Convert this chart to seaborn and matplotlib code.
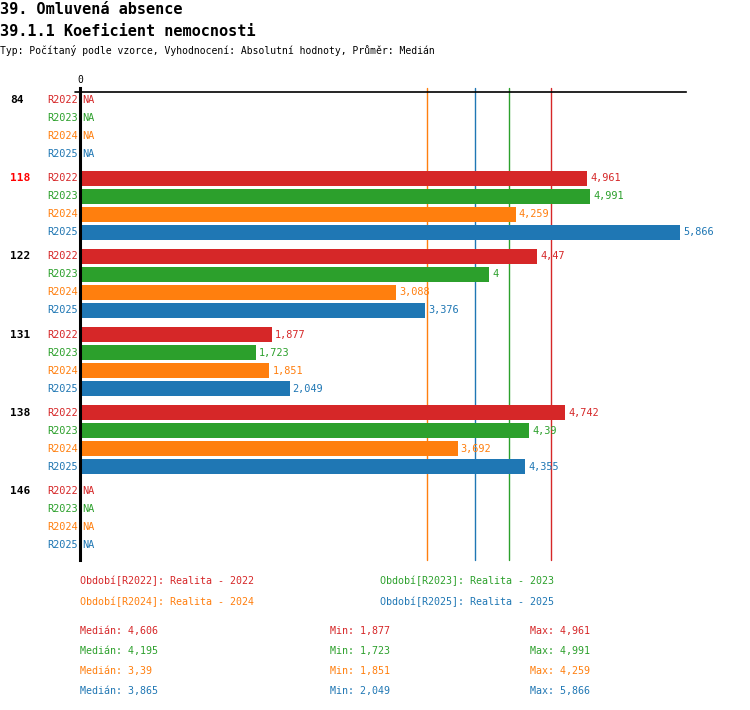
import numpy as np
import pandas as pd
import seaborn as sns
import matplotlib.pyplot as plt
from matplotlib.lines import Line2D

# data
groups = ["84", "118", "122", "131", "138", "146"]
periods = ["R2022", "R2023", "R2024", "R2025"]
v2022 = [np.nan, 4.961, 4.47, 1.877, 4.742, np.nan]
v2023 = [np.nan, 4.991, 4.0, 1.723, 4.39, np.nan]
v2024 = [np.nan, 4.259, 3.088, 1.851, 3.692, np.nan]
v2025 = [np.nan, 5.866, 3.376, 2.049, 4.355, np.nan]
medians = [4.606, 4.195, 3.39, 3.865]
mins = [1.877, 1.723, 1.851, 2.049]
maxs = [4.961, 4.991, 4.259, 5.866]
legend_names = ["Realita - 2022", "Realita - 2023", "Realita - 2024", "Realita - 2025"]
highlight = "118"

colors = ["#d62728", "#2ca02c", "#ff7f0e", "#1f77b4"]
palette = dict(zip(periods, colors))
GROUP_STEP = 4.35


def fmt(v):
    s = f"{v:.3f}".rstrip("0").rstrip(".")
    return s.replace(".", ",")


rows = []
for gi, g in enumerate(groups):
    for pi, (p, vals) in enumerate(zip(periods, [v2022, v2023, v2024, v2025])):
        rows.append({"group": g, "period": p, "value": vals[gi],
                     "pos": gi * GROUP_STEP + pi})
df = pd.DataFrame(rows)

sns.set_style("white")
plt.rcParams["font.family"] = ["DejaVu Sans Mono"]
plt.rcParams["text.color"] = "black"

W, H = 750, 710
fig = plt.figure(figsize=(W / 100, H / 100), dpi=100)
ax = fig.add_axes([80 / W, 1 - 560 / H, (686 - 80) / W, (560 - 92) / H])

# median lines behind bars
for m, c in zip(medians, colors):
    ax.axvline(m, ymin=0, ymax=1 + 4 / 468, color=c, lw=1, zorder=0, clip_on=False)

sns.barplot(data=df.dropna(), x="value", y="pos", hue="period", palette=palette,
            orient="h", native_scale=True, dodge=False, width=0.84,
            legend=False, ax=ax, zorder=2, saturation=1, linewidth=0)

ax.set_xlim(0, 5.925)
last = (len(groups) - 1) * GROUP_STEP + 3
ax.set_ylim(last + 0.833, -0.444)

for s in ["right", "bottom"]:
    ax.spines[s].set_visible(False)
ax.spines["top"].set_color("black")
ax.spines["top"].set_linewidth(1.2)
ax.spines["left"].set_color("black")
ax.spines["left"].set_linewidth(2.2)
ax.spines["left"].set_bounds(last + 0.833, -0.67)
ax.add_line(Line2D([-5 / 606, 0], [1, 1], transform=ax.transAxes,
                   color="black", lw=1.2, clip_on=False))

ax.xaxis.tick_top()
ax.set_xticks([0])
ax.set_xticklabels(["0"], fontsize=7, color="black")
ax.tick_params(axis="x", length=0, pad=5)
ax.set_yticks([])
ax.set_xlabel("")
ax.set_ylabel("")

# row labels, group labels and value labels
for _, r in df.iterrows():
    c = palette[r["period"]]
    ax.text(-0.02, r["pos"], r["period"], ha="right", va="center",
            color=c, fontsize=7.4)
    if np.isnan(r["value"]):
        ax.text(0.02, r["pos"], "NA", ha="left", va="center", color=c, fontsize=7.4)
    else:
        ax.text(r["value"] + 0.03, r["pos"], fmt(r["value"]), ha="left",
                va="center", color=c, fontsize=7.4)

for gi, g in enumerate(groups):
    ax.text(-70 / 102.3, gi * GROUP_STEP, g, ha="left", va="center",
            fontsize=8, fontweight="bold",
            color="#ff0000" if g == highlight else "black")

# titles
fig.text(0, 1 - 9 / H, "39. Omluvená absence", fontsize=11, fontweight="bold", va="center")
fig.text(0, 1 - 31 / H, "39.1.1 Koeficient nemocnosti", fontsize=11, fontweight="bold", va="center")
fig.text(0, 1 - 50 / H,
         "Typ: Počítaný podle vzorce, Vyhodnocení: Absolutní hodnoty, Průměr: Medián",
         fontsize=7, va="center")

# legend below
leg_pos = [(80, 581), (380, 581), (80, 602), (380, 602)]
for (x, y), p, name, c in zip(leg_pos, periods, legend_names, colors):
    fig.text(x / W, 1 - y / H, f"Období[{p}]: {name}", color=c, fontsize=7.2, va="center")

for i, c in enumerate(colors):
    y = 1 - (631 + 20 * i) / H
    fig.text(80 / W, y, f"Medián: {fmt(medians[i])}", color=c, fontsize=7.2, va="center")
    fig.text(330 / W, y, f"Min: {fmt(mins[i])}", color=c, fontsize=7.2, va="center")
    fig.text(530 / W, y, f"Max: {fmt(maxs[i])}", color=c, fontsize=7.2, va="center")

fig.savefig("out.png", dpi=100)
